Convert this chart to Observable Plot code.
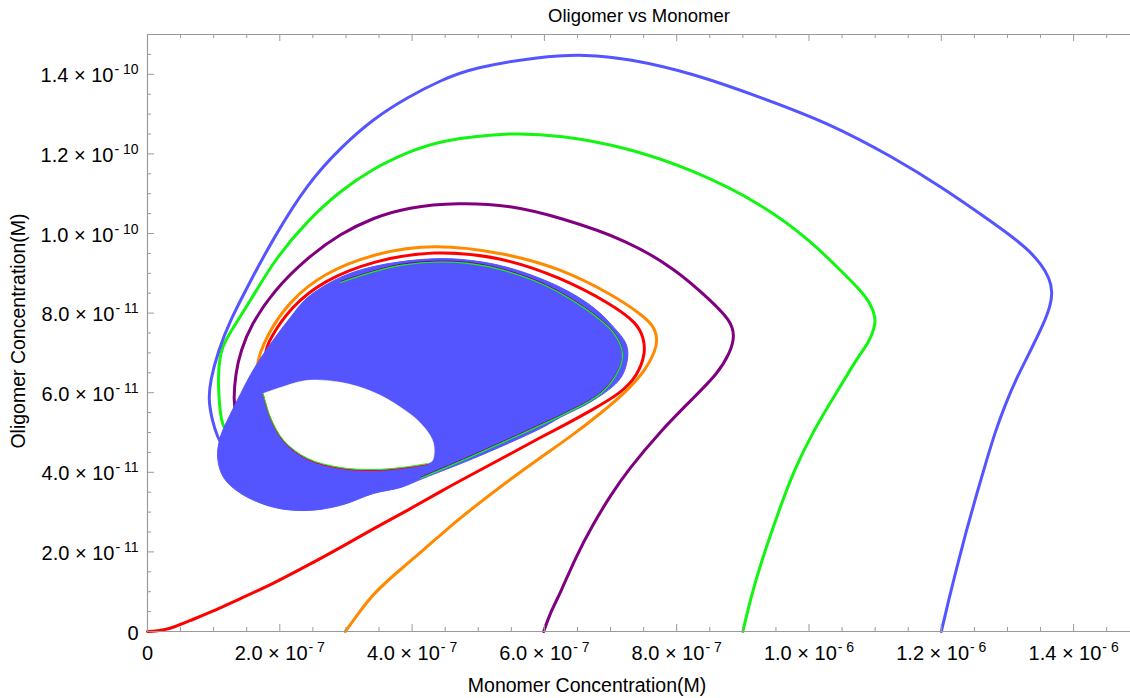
<!DOCTYPE html>
<html>
<head>
<meta charset="utf-8">
<script src="https://cdn.jsdelivr.net/npm/d3@7"></script>
<script src="https://cdn.jsdelivr.net/npm/@observablehq/plot@0.6"></script>
<style>
  html, body { margin: 0; padding: 0; background: #fff; }
  svg { display: block; }
</style>
</head>
<body>
<div id="chart"></div>
<script>
// Units: x in 1e-7 M (monomer), y in 1e-11 M (oligomer)
const xTickValues = [0, 2, 4, 6, 8, 10, 12, 14];
const xTickLabels = ["0", "2.0 × 10^-7", "4.0 × 10^-7", "6.0 × 10^-7", "8.0 × 10^-7", "1.0 × 10^-6", "1.2 × 10^-6", "1.4 × 10^-6"];
const yTickValues = [0, 2, 4, 6, 8, 10, 12, 14];
const yTickLabels = ["0", "2.0 × 10^-11", "4.0 × 10^-11", "6.0 × 10^-11", "8.0 × 10^-11", "1.0 × 10^-10", "1.2 × 10^-10", "1.4 × 10^-10"];

const titleText = "Oligomer vs Monomer";
const xLabelText = "Monomer Concentration(M)";
const yLabelText = "Oligomer Concentration(M)";

// trajectories [monomer, oligomer]
const redCurve = [[0,0],[0.12,0.01],[0.24,0.04],[0.39,0.10],[0.65,0.28],[0.91,0.45],[1.41,0.83],[1.91,1.21],[2.42,1.66],[2.92,2.11],[3.42,2.59],[3.93,3.04],[4.43,3.52],[4.93,3.97],[5.44,4.42],[5.94,4.88],[6.32,5.20],[6.70,5.55],[7.15,5.98],[7.41,6.43],[7.53,7.01],[7.50,7.36],[7.41,7.74],[7.00,8.24],[6.24,8.90],[5.34,9.42],[4.32,9.58],[3.42,9.32],[2.66,8.82],[2.16,8.14],[1.86,7.39],[1.74,6.94],[1.89,6.36]];
const orangeCurve = [[2.99,0],[3.22,0.53],[3.42,0.96],[3.80,1.53],[4.17,2.04],[4.55,2.61],[4.93,3.12],[5.44,3.77],[5.94,4.37],[6.40,4.90],[6.85,5.48],[7.23,6.01],[7.53,6.56],[7.68,7.06],[7.71,7.36],[7.65,7.69],[7.45,7.99],[7.00,8.49],[6.24,9.12],[5.44,9.50],[4.32,9.75],[3.42,9.50],[2.66,9.00],[2.16,8.32],[1.81,7.49],[1.60,6.56],[1.74,6.06]];
const purpleCurve = [[5.99,0],[6.09,0.48],[6.24,0.96],[6.47,1.86],[6.74,2.71],[7.00,3.42],[7.26,4.05],[7.76,5.05],[8.26,5.88],[8.62,6.48],[8.81,7.01],[8.88,7.44],[8.81,7.82],[8.51,8.32],[8.01,9.07],[7.26,9.83],[6.24,10.40],[5.49,10.71],[4.69,10.78],[3.93,10.66],[3.42,10.40],[2.92,10.00],[2.42,9.40],[1.91,8.57],[1.56,7.69],[1.41,7.06],[1.33,6.48],[1.30,5.81],[1.33,5.48],[1.44,5.10]];
const greenCurve = [[9.00,0],[9.12,0.85],[9.27,1.71],[9.53,2.97],[9.77,4.05],[10.07,5.05],[10.37,5.88],[10.60,6.51],[10.78,6.99],[10.90,7.26],[10.99,7.62],[11.01,7.89],[10.93,8.24],[10.78,8.57],[10.52,9.00],[10.02,9.83],[9.27,10.76],[8.26,11.59],[7.26,12.16],[6.24,12.47],[5.44,12.54],[4.43,12.34],[3.93,12.04],[3.42,11.64],[2.92,11.08],[2.42,10.33],[1.91,9.32],[1.56,8.32],[1.22,7.44],[1.10,7.06],[1.06,6.31],[1.10,5.48],[1.13,5.18],[1.29,4.75]];
const blueCurve = [[12.00,0],[12.11,0.78],[12.25,1.71],[12.38,2.54],[12.52,3.37],[12.67,4.22],[12.82,5.05],[12.97,5.71],[13.12,6.31],[13.35,7.06],[13.55,7.74],[13.65,8.19],[13.68,8.52],[13.64,8.87],[13.50,9.25],[13.32,9.58],[13.05,9.95],[12.67,10.40],[12.04,11.13],[11.28,11.91],[10.28,12.79],[9.27,13.42],[8.26,14.02],[7.26,14.40],[6.62,14.50],[5.94,14.45],[4.93,14.17],[4.43,13.85],[3.93,13.42],[3.42,12.89],[2.92,12.16],[2.42,11.26],[1.91,9.90],[1.56,8.82],[1.25,7.82],[1.07,7.06],[0.95,6.31],[0.92,5.81],[0.98,5.30],[1.05,4.90],[1.19,4.50]];
// dense spiral of the blue trajectory (filled band) and its inner hole
const blueBand = [[1.06,4.37],[1.10,4.88],[1.25,5.45],[1.41,5.98],[1.56,6.46],[1.74,6.94],[1.94,7.41],[2.16,7.89],[2.42,8.39],[2.92,8.90],[3.42,9.17],[4.17,9.35],[4.73,9.35],[5.44,9.15],[6.24,8.65],[6.74,8.14],[7.05,7.64],[7.23,7.24],[7.26,6.91],[7.15,6.36],[6.74,5.81],[6.24,5.38],[5.94,5.10],[4.93,4.35],[4.17,3.85],[3.83,3.62],[3.42,3.47],[2.92,3.17],[2.42,3.04],[1.91,3.12],[1.41,3.47],[1.15,3.87]];
const bandHole = [[1.75,5.98],[2.01,6.13],[2.42,6.31],[2.92,6.26],[3.42,6.01],[3.83,5.63],[4.13,5.23],[4.32,4.75],[4.31,4.30],[4.23,4.22],[3.83,4.12],[3.42,4.07],[2.92,4.12],[2.42,4.35],[2.06,4.80],[1.86,5.38],[1.75,5.98]];
// limit cycle traces visible inside the band
const cycleInner = [[1.75,5.98],[1.86,5.38],[2.06,4.80],[2.42,4.35],[2.92,4.12],[3.42,4.07],[3.83,4.12],[4.23,4.22]];
const cycleOuter = [[4.13,3.85],[4.93,4.42],[5.94,5.18],[6.35,5.50],[6.85,5.98],[7.12,6.56],[7.18,6.99],[7.05,7.49],[6.59,8.14],[5.84,8.82],[4.84,9.25],[3.83,9.20],[2.92,8.77]];

const X_MAX = 14.86, Y_MAX = 15;
const W = 1130, H = 698, ML = 147, MR = 0, MT = 34, MB = 67;
const FW = W - ML - MR, FH = H - MT - MB;

const C = {blue: "#5555ff", green: "#11f511", purple: "#800080", orange: "#ff8a00", red: "#ff0000", axis: "#9a9a9a"};
const px = d => d[0], py = d => d[1];
const lineOpts = (color) => ({x: px, y: py, stroke: color, strokeWidth: 3, curve: "basis"});

const xMinor = d3.range(0, 15, 0.5).filter(v => v % 2 !== 0);
const yMinor = d3.range(0, 15.01, 0.5).filter(v => v % 2 !== 0);

const font = "'Liberation Sans', Arial, Helvetica, sans-serif";

const svg = Plot.plot({
  width: W, height: H,
  marginLeft: ML, marginRight: MR, marginTop: MT, marginBottom: MB,
  style: {fontFamily: font, background: "#fff", overflow: "visible"},
  x: {domain: [0, X_MAX], axis: null},
  y: {domain: [0, Y_MAX], axis: null},
  marks: [
    Plot.line(redCurve, lineOpts(C.red)),
    Plot.line(orangeCurve, lineOpts(C.orange)),
    Plot.line(purpleCurve, lineOpts(C.purple)),
    Plot.line(greenCurve, lineOpts(C.green)),
    Plot.line(blueCurve, lineOpts(C.blue)),
    Plot.line(blueBand, {x: px, y: py, fill: C.blue, stroke: C.blue, strokeWidth: 1, curve: "catmull-rom-closed"}),
    Plot.line(bandHole, {x: px, y: py, fill: "#fff", stroke: "#fff", strokeWidth: 0.5, curve: "catmull-rom"}),
    Plot.line(cycleInner, {x: px, y: py, stroke: C.red, strokeWidth: 1, curve: "catmull-rom", dy: 1}),
    Plot.line(cycleInner, {x: px, y: py, stroke: C.green, strokeWidth: 1, curve: "catmull-rom"}),
    Plot.line(cycleOuter, {x: px, y: py, stroke: C.purple, strokeWidth: 1, curve: "catmull-rom", dy: -1}),
    Plot.line(cycleOuter, {x: px, y: py, stroke: C.green, strokeWidth: 1.2, curve: "catmull-rom"}),
    // frame
    Plot.ruleX([0], {stroke: C.axis, strokeWidth: 1.2}),
    Plot.ruleY([0], {stroke: C.axis, strokeWidth: 1.2}),
    Plot.ruleY([Y_MAX], {stroke: C.axis, strokeWidth: 1.2}),
    // ticks (inward)
    Plot.ruleX(xTickValues, {x: d => d, stroke: C.axis, insetTop: FH - 7}),
    Plot.ruleX(xMinor, {x: d => d, stroke: C.axis, insetTop: FH - 4}),
    Plot.ruleX(xTickValues, {x: d => d, stroke: C.axis, insetBottom: FH - 7}),
    Plot.ruleX(xMinor, {x: d => d, stroke: C.axis, insetBottom: FH - 4}),
    Plot.ruleY(yTickValues, {y: d => d, stroke: C.axis, insetRight: FW - 7}),
    Plot.ruleY(yMinor, {y: d => d, stroke: C.axis, insetRight: FW - 4}),
    // tick labels
    Plot.text(xTickValues, {x: d => d, text: (d, i) => xTickLabels[i], frameAnchor: "bottom", lineAnchor: "bottom", dy: 28, fontSize: 20, fill: "#000", textAnchor: "middle"}),
    Plot.text(yTickValues, {y: d => d, text: (d, i) => yTickLabels[i], frameAnchor: "left", lineAnchor: "bottom", dx: -9, dy: 8, fontSize: 20, fill: "#000", textAnchor: "end"}),
    // titles
    Plot.text([titleText], {text: d => d, frameAnchor: "top", lineAnchor: "bottom", textAnchor: "middle", dy: -13, fontSize: 18.5, fill: "#000"}),
    Plot.text([xLabelText], {text: d => d, frameAnchor: "bottom", lineAnchor: "bottom", textAnchor: "middle", dx: -52, dy: 60, fontSize: 19.5, fill: "#000"}),
    Plot.text([yLabelText], {text: d => d, frameAnchor: "left", lineAnchor: "middle", textAnchor: "middle", rotate: -90, dx: -129, dy: -2, fontSize: 19.5, fill: "#000"})
  ]
});

// superscript exponents in tick labels
const NS = "http://www.w3.org/2000/svg";
svg.querySelectorAll("text").forEach(t => {
  const s = t.textContent;
  const i = s.indexOf("^");
  if (i < 0) return;
  const main = s.slice(0, i), sup = s.slice(i + 1).replace("-", "- ");
  while (t.firstChild) t.removeChild(t.firstChild);
  const a = document.createElementNS(NS, "tspan");
  a.textContent = main;
  const b = document.createElementNS(NS, "tspan");
  b.textContent = sup;
  b.setAttribute("dy", "-8");
  b.setAttribute("dx", "1");
  b.setAttribute("font-size", "14");
  t.append(a, b);
});

document.getElementById("chart").append(svg);
</script>
</body>
</html>
